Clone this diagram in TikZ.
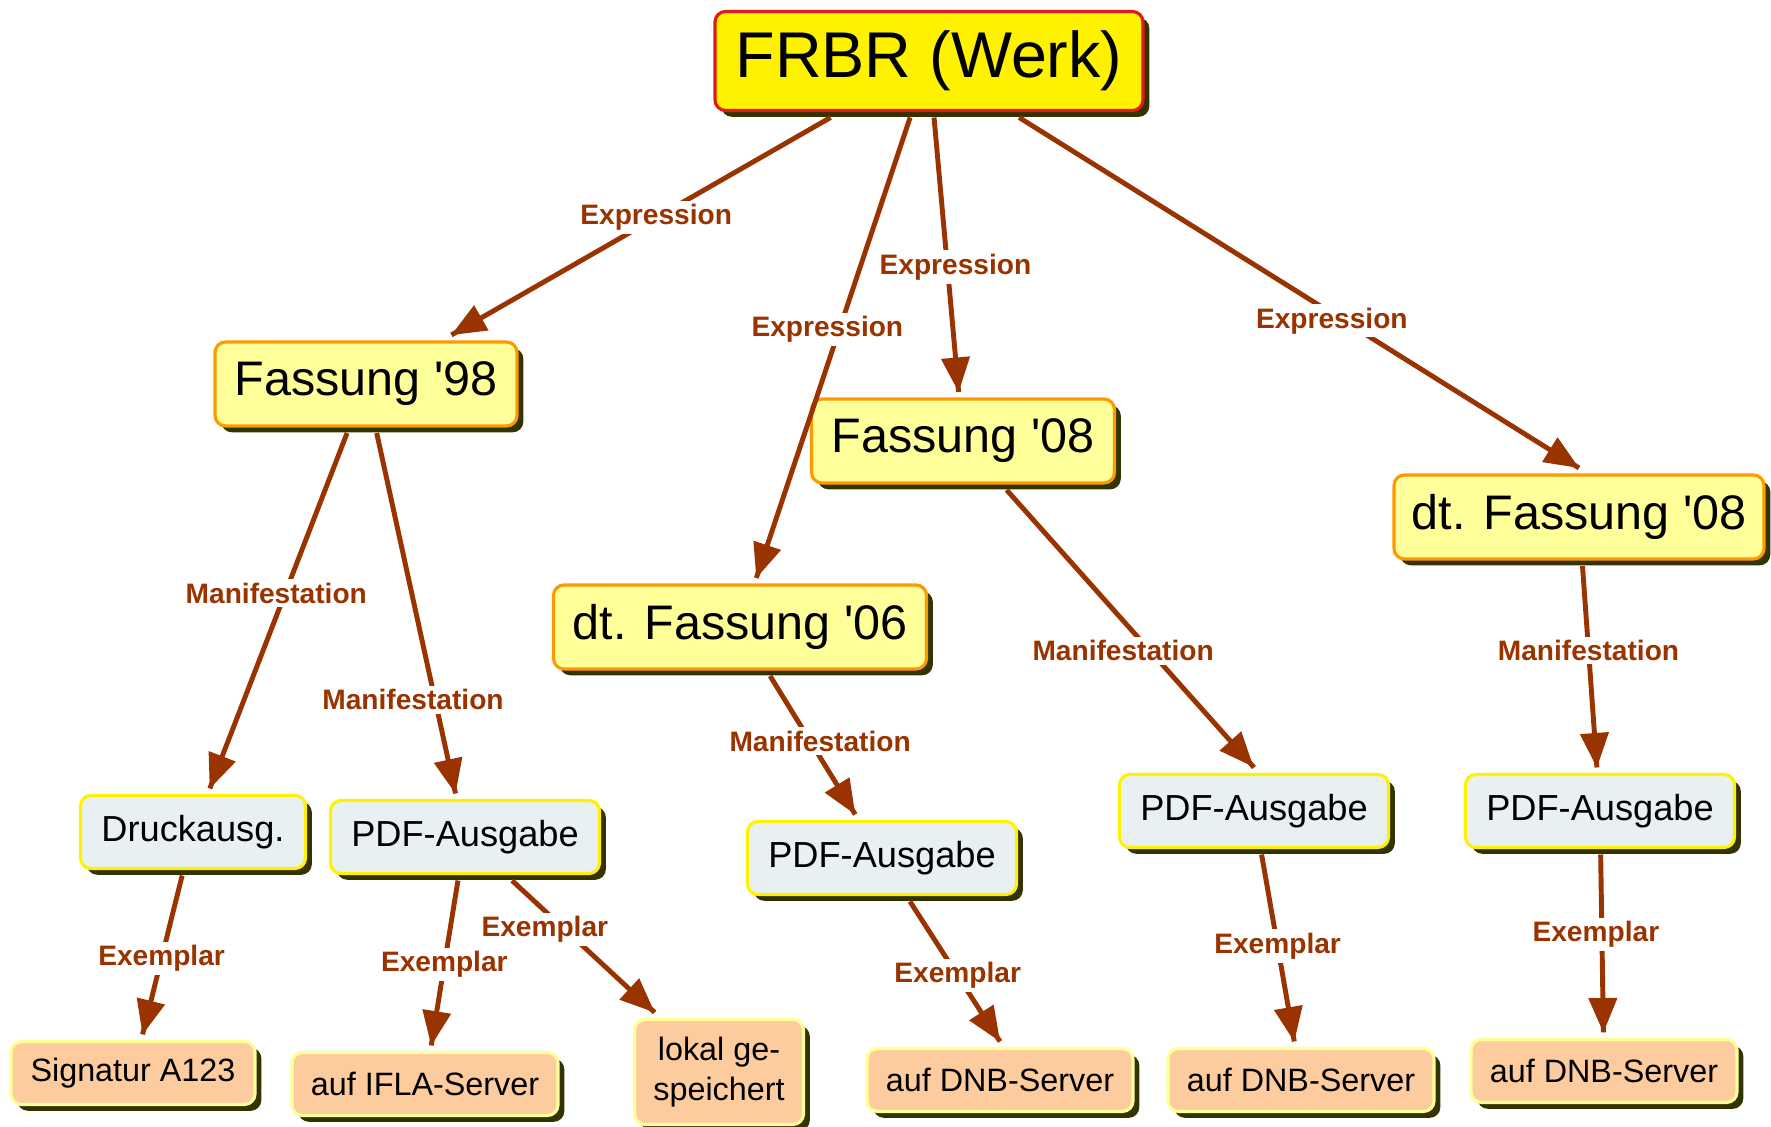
\documentclass[tikz,border=0pt]{standalone}
\usepackage{fontspec}
\setmainfont{Liberation Sans}
\usetikzlibrary{arrows}
\usetikzlibrary{decorations.markings}
\usetikzlibrary{shadows}
\definecolor{mbrown}{rgb}{0.6, 0.2, 0}
\definecolor{mred}{rgb}{0.9, 0.1, 0.1}
\definecolor{morange}{rgb}{1, 0.6, 0}
\definecolor{mlight}{rgb}{1, 1, 0.6}
\definecolor{mgrey}{rgb}{0.91, 0.94, 0.95}
\definecolor{mpeach}{rgb}{0.99, 0.8, 0.62}
\definecolor{mshadow}{rgb}{0.2, 0.2, 0}
\tikzset{pfeil/.style = {draw=mbrown, line width=1.4pt,
                         decoration={markings,
                                     mark=at position 1 with {\arrow[scale=0.95, mbrown]{triangle 45}}},
                         postaction={decorate}}}
\tikzset{box/.style = {rounded corners=3pt, inner sep=0, outer sep=2pt, line width=0.9pt,
                       drop shadow={shadow xshift=1.8pt, shadow yshift=-1.8pt, fill=mshadow, opacity=1}}}
\tikzset{werk/.style = {box, fill=yellow, draw=mred, minimum width=4.28cm, minimum height=0.99cm,
                        font=\fontsize{18.4}{22}\selectfont}}
\tikzset{fassung/.style = {box, fill=mlight, draw=morange, minimum height=0.84cm,
                           font=\fontsize{13.8}{16}\selectfont}}
\tikzset{ausgabe/.style = {box, fill=mgrey, draw=yellow, minimum width=2.69cm, minimum height=0.73cm,
                           font=\fontsize{10.3}{12}\selectfont}}
\tikzset{exemplar/.style = {box, fill=mpeach, draw=mlight, minimum width=2.66cm, minimum height=0.63cm,
                            align=center, font=\fontsize{9.2}{11.5}\selectfont}}
\tikzset{rel/.style = {fill=white, text=mbrown, inner sep=1pt, font=\fontsize{8}{9.6}\selectfont\bfseries}}

\begin{document}
\begin{tikzpicture}
      \useasboundingbox (0, 0) rectangle (17.71, -11.27);

      \node [werk] (frbr) at (9.29, -0.61) {FRBR (Werk)};

      \node [fassung, minimum width=3.02cm] (f98) at (3.66, -3.84) {Fassung \textquotesingle98};
      \node [fassung, minimum width=3.03cm] (f08) at (9.63, -4.41) {Fassung \textquotesingle08};
      \node [fassung, minimum width=3.73cm] (dtf06) at (7.40, -6.27) {dt. Fassung \textquotesingle06};
      \node [fassung, minimum width=3.70cm] (dtf08) at (15.79, -5.17) {dt. Fassung \textquotesingle08};

      \node [ausgabe, minimum width=2.25cm] (druck) at (1.93, -8.32) {Druckausg.};
      \node [ausgabe] (pdfa) at (4.65, -8.37) {PDF-Ausgabe};
      \node [ausgabe] (pdfb) at (8.82, -8.58) {PDF-Ausgabe};
      \node [ausgabe] (pdfc) at (12.54, -8.11) {PDF-Ausgabe};
      \node [ausgabe] (pdfd) at (16.00, -8.11) {PDF-Ausgabe};

      \node [exemplar, minimum width=2.44cm] (sig) at (1.33, -10.73) {Signatur A123};
      \node [exemplar] (ifla) at (4.25, -10.84) {auf IFLA-Server};
      \node [exemplar, minimum width=1.69cm, minimum height=1.05cm] (lokal) at (7.19, -10.72) {lokal ge-\\speichert};
      \node [exemplar] (dnba) at (10.00, -10.80) {auf DNB-Server};
      \node [exemplar] (dnbb) at (13.01, -10.80) {auf DNB-Server};
      \node [exemplar] (dnbc) at (16.04, -10.71) {auf DNB-Server};

      % Expression
      \draw [pfeil] (frbr) -- (f98) node [rel, pos=0.46] {Expression};
      \draw [pfeil] (frbr) -- (dtf06) node [rel, pos=0.46, xshift=-0.12cm] {Expression};
      \draw [pfeil] (frbr) -- (f08) node [rel, pos=0.545, xshift=0.08cm] {Expression};
      \draw [pfeil] (frbr) -- (dtf08.north) node [rel, pos=0.58, xshift=-0.12cm] {Expression};

      % Manifestation
      \draw [pfeil] (f98) -- (druck) node [rel, pos=0.45, xshift=-0.09cm] {Manifestation};
      \draw [pfeil] (f98) -- (pdfa) node [rel, pos=0.74, xshift=-0.22cm] {Manifestation};
      \draw [pfeil] (dtf06) -- (pdfb) node [rel, pos=0.47, xshift=0.1cm] {Manifestation};
      \draw [pfeil] (f08) -- (pdfc.north) node [rel, pos=0.58, xshift=-0.27cm] {Manifestation};
      \draw [pfeil] (dtf08) -- (pdfd) node [rel, pos=0.42] {Manifestation};

      % Exemplar
      \draw [pfeil] (druck) -- (sig) node [rel, pos=0.52] {Exemplar};
      \draw [pfeil] (pdfa) -- (ifla) node [rel, pos=0.51] {Exemplar};
      \draw [pfeil] (pdfa) -- (lokal) node [rel, pos=0.37, xshift=-0.2cm] {Exemplar};
      \draw [pfeil] (pdfb) -- (dnba.north) node [rel, pos=0.53] {Exemplar};
      \draw [pfeil] (pdfc) -- (dnbb) node [rel, pos=0.49] {Exemplar};
      \draw [pfeil] (pdfd) -- (dnbc) node [rel, pos=0.45, xshift=-0.06cm] {Exemplar};
    \end{tikzpicture}
\end{document}
